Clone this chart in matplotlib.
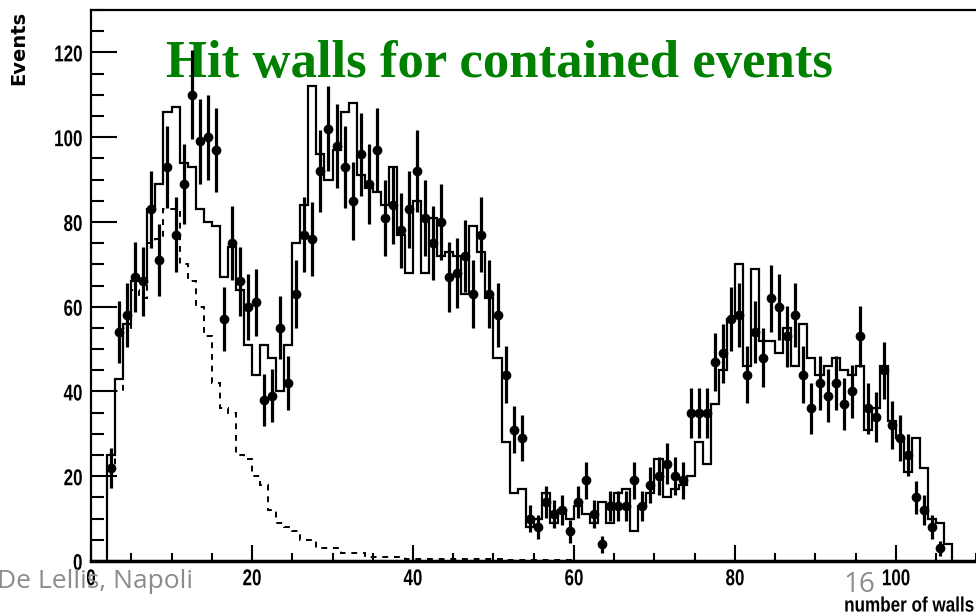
import numpy as np
import matplotlib
matplotlib.use("Agg")
import matplotlib.pyplot as plt
from matplotlib.ticker import MultipleLocator
from matplotlib.patheffects import AbstractPathEffect
from matplotlib.transforms import Affine2D

# fonts: ROOT-like bold labels (squeezed below to look like Helvetica Narrow)
plt.rcParams['font.family'] = ['Liberation Sans', 'DejaVu Sans']
plt.rcParams['font.weight'] = 'bold'


class Narrow(AbstractPathEffect):
    """Squeeze glyphs horizontally around the left, centre or right of the text."""

    def __init__(self, sx=0.82, anchor='center'):
        super().__init__()
        self.sx = sx
        self.anchor = anchor

    def draw_path(self, renderer, gc, tpath, affine, rgbFace=None):
        ext = tpath.get_extents()
        if self.anchor == 'right':
            cx = ext.x1
        elif self.anchor == 'left':
            cx = ext.x0
        else:
            cx = 0.5 * (ext.x0 + ext.x1)
        t = Affine2D().translate(-cx, 0).scale(self.sx, 1).translate(cx, 0) + affine
        renderer.draw_path(gc, tpath, t, rgbFace)


# ---------------- data (one bin = one wall, lower edges 2..106) ----------------
bin_edges = list(range(2, 108))

# solid histogram (MC total), bins 2..106
mc_total = [25, 43, 56, 66, 66, 83, 89, 106, 107, 94,
            93, 83, 80, 79, 67, 74, 64, 51, 44, 51,
            48, 40, 51, 75, 84, 112, 96, 90, 97, 106,
            108, 91, 88, 87, 84, 93, 77, 68, 85, 68,
            81, 72, 73, 72, 63, 79, 73, 62, 48, 28,
            16, 17, 8, 10, 16, 9, 12, 10, 13, 11,
            9, 14, 9, 16, 17, 7, 13, 16, 24, 15,
            17, 18, 20, 28, 23, 37, 45, 57, 70, 46,
            69, 52, 52, 49, 55, 46, 56, 48, 44, 46,
            48, 45, 44, 46, 31, 36, 46, 33, 29, 21,
            29, 22, 10, 9, 4]

# dashed histogram (single component), bins 2..106
mc_part = [22, 40, 55, 64, 62, 75, 76, 83, 83, 70,
           66, 60, 53, 42, 36, 35, 25, 24, 20, 18,
           12, 9, 8, 7, 5, 5, 3, 3, 3, 2,
           2, 2, 1, 1, 1, 1, 1, 0.5, 0.5, 0.5,
           0.5, 0.5, 0.5, 0.5, 0.5, 0.5, 0.5, 0.5, 0.5, 0.3,
           0.3, 0.3, 0.3, 0.3, 0.3, 0.3, 0.3, 0.3, 0, 0,
           0, 0, 0, 0, 0, 0, 0, 0, 0, 0,
           0, 0, 0, 0, 0, 0, 0, 0, 0, 0,
           0, 0, 0, 0, 0, 0, 0, 0, 0, 0,
           0, 0, 0, 0, 0, 0, 0, 0, 0, 0,
           0, 0, 0, 0, 0]

# data points, bins 2..105
data_counts = [22, 54, 58, 67, 66, 83, 71, 93, 77, 89,
               110, 99, 100, 97, 57, 75, 66, 60, 61, 38,
               39, 55, 42, 63, 77, 76, 92, 102, 98, 93,
               85, 96, 89, 97, 81, 84, 78, 83, 92, 81,
               75, 80, 67, 68, 72, 63, 77, 63, 58, 44,
               31, 29, 10, 8, 14, 11, 12, 7, 14, 19,
               11, 4, 13, 13, 13, 19, 13, 18, 20, 23,
               20, 19, 35, 35, 35, 47, 49, 57, 58, 44,
               54, 48, 62, 60, 53, 58, 44, 36, 42, 39,
               42, 37, 40, 53, 36, 34, 45, 32, 29, 25,
               15, 12, 8, 3]

x_ticks = [0, 20, 40, 60, 80, 100]
y_ticks = [0, 20, 40, 60, 80, 100, 120]

# ---------------- figure ----------------
W, H = 976, 616
fig = plt.figure(figsize=(W / 100, H / 100), dpi=100)
ax = fig.add_axes([91 / W, 55 / H, 885.5 / W, 551 / H])
ax.set_xlim(0, 110)
ax.set_ylim(0, 130)

edges = np.array(bin_edges, dtype=float)
ax.stairs(mc_total, edges, color='black', linewidth=1.6, baseline=0, zorder=3)
ax.stairs(mc_part, edges, color='black', linewidth=1.4, linestyle=(0, (3, 3)),
          baseline=None, zorder=3)

counts = np.array(data_counts, dtype=float)
centers = edges[:len(counts)] + 0.5
ax.errorbar(centers, counts, yerr=np.sqrt(counts), fmt='o', color='black',
            markersize=6, elinewidth=2.3, capsize=0, zorder=4)

# axes styling
ax.spines['right'].set_visible(False)
ax.spines['left'].set_linewidth(1.6)
ax.spines['top'].set_linewidth(1.6)
ax.spines['bottom'].set_linewidth(2.5)

ax.set_xticks(x_ticks)
ax.set_yticks(y_ticks)
ax.xaxis.set_minor_locator(MultipleLocator(5))
ax.yaxis.set_minor_locator(MultipleLocator(5))
ax.tick_params(axis='x', which='major', direction='in', length=11.5, width=1.5,
               pad=4.5, labelsize=16.5)
ax.tick_params(axis='x', which='minor', direction='in', length=5.8, width=1.5)
ax.tick_params(axis='y', which='major', direction='in', length=18.7, width=1.5,
               pad=6, labelsize=16.5)
ax.tick_params(axis='y', which='minor', direction='in', length=9.4, width=1.5)
for lab in ax.get_xticklabels():
    lab.set_path_effects([Narrow(0.74, 'center')])
for lab in ax.get_yticklabels():
    lab.set_path_effects([Narrow(0.74, 'right')])

# labels
fig.text(19 / W, 1 - 11 / H, 'Events', rotation=90, ha='center', va='top',
         fontsize=14, family='DejaVu Sans', weight='bold')
fig.text(975 / W, 1 - 606 / H, 'number of walls', ha='right', va='center',
         fontsize=15, path_effects=[Narrow(0.82, 'right')])

# title sits under the data marks
ax.text(0.512, 1 - 76.5 / H, 'Hit walls for contained events',
        transform=fig.transFigure, ha='center', va='baseline', fontsize=38,
        family='Liberation Serif', weight='bold', color='#008000', zorder=1)

# slide footer texts
fig.text(193 / W, 1 - 588 / H, 'De Lellis, Napoli', ha='right', va='baseline',
         fontsize=19, family='Open Sans', weight='normal', color='#8c8c8c')
fig.text(843 / W, 1 - 592 / H, '16', ha='left', va='baseline',
         fontsize=20, family='Open Sans', weight='normal', color='#8c8c8c')

fig.savefig('out.png', dpi=100)
